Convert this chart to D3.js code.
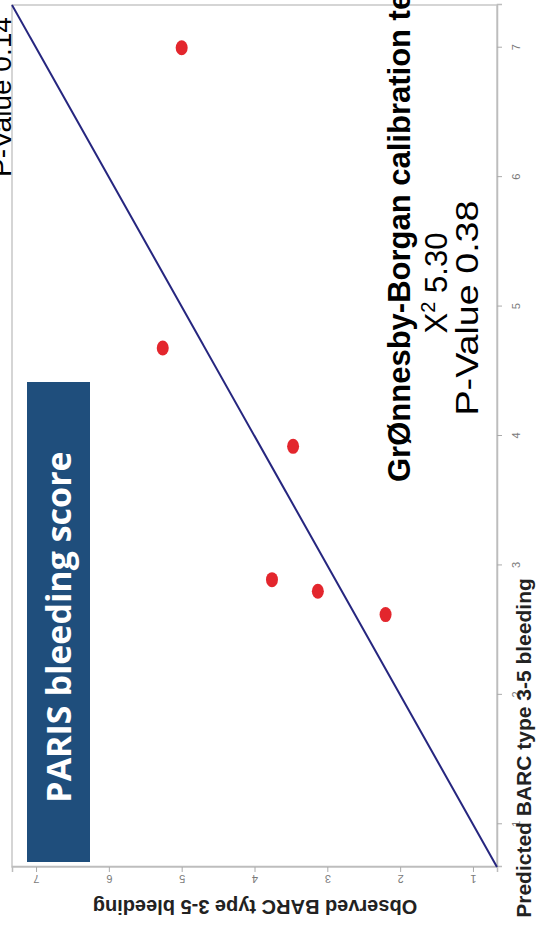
<!DOCTYPE html>
<html>
<head>
<meta charset="utf-8">
<script src="https://cdn.jsdelivr.net/npm/d3@7"></script>
<style>
  html, body { margin: 0; padding: 0; background: #fff; }
  svg { display: block; }
</style>
</head>
<body>
<svg id="chart" width="548" height="939"></svg>
<script>
// ---- data ----
const predicted = [7.00, 4.68, 3.92, 2.89, 2.80, 2.62];
const observed  = [5.00, 5.26, 3.47, 3.76, 3.13, 2.20];
const tickValues = [1, 2, 3, 4, 5, 6, 7];
const axisDomain = [0.67, 7.33];
const titleText = "PARIS bleeding score";
const testTitle = "GrØnnesby-Borgan calibration test";
const chiText = "5.30";
const pText = "P-Value 0.38";
const otherPText = "P-Value 0.14";
const xTitle = "Predicted BARC type 3-5 bleeding";
const yTitle = "Observed BARC type 3-5 bleeding";

// ---- layout (original chart orientation, then rotated -90deg) ----
const W = 862, H = 485;
const svg = d3.select("#chart");
const g = svg.append("g")
  .attr("transform", "translate(497,867) rotate(-90) translate(0,-485)");

const x = d3.scaleLinear().domain(axisDomain).range([0, W]);
const y = d3.scaleLinear().domain(axisDomain).range([H, 0]);

// frame
g.append("rect").attr("x", 0).attr("y", 0).attr("width", W).attr("height", H)
  .attr("fill", "#fff").attr("stroke", "#c8c8c8").attr("stroke-width", 1.5);

// axes
const xAxis = g.append("g").attr("transform", `translate(0,${H})`)
  .call(d3.axisBottom(x).tickValues(tickValues).tickSize(5).tickPadding(10).tickFormat(d3.format("d")));
const yAxis = g.append("g")
  .call(d3.axisLeft(y).tickValues(tickValues).tickSize(5).tickPadding(8).tickFormat(d3.format("d")));
[xAxis, yAxis].forEach(a => {
  a.select(".domain").attr("stroke", "#bdbdbd").attr("stroke-width", 1.5);
  a.selectAll(".tick line").attr("stroke", "#aaa");
  a.selectAll(".tick text").attr("fill", "#7a7a7a").attr("font-size", 11)
    .attr("font-family", "Liberation Sans, Arial, sans-serif");
});
yAxis.selectAll(".tick text")
  .attr("x", null).attr("dy", null)
  .attr("text-anchor", "middle")
  .attr("transform", "translate(-8,0) rotate(-90)");

// title box
g.append("rect").attr("x", 5).attr("y", 15).attr("width", 480).attr("height", 63)
  .attr("fill", "#1f4e7c");
g.append("text").attr("x", 240).attr("y", 59)
  .attr("text-anchor", "middle").attr("fill", "#fff")
  .attr("font-family", "Open Sans, sans-serif").attr("font-weight", "bold")
  .attr("font-size", 34).text(titleText);

// reference line y = x
g.append("line")
  .attr("x1", x(axisDomain[0])).attr("y1", y(axisDomain[0]))
  .attr("x2", x(axisDomain[1])).attr("y2", y(axisDomain[1]))
  .attr("stroke", "#26267f").attr("stroke-width", 2);

// points
const pts = predicted.map((p, i) => ({ p, o: observed[i] }));
g.selectAll("ellipse.pt").data(pts).join("ellipse").attr("class", "pt")
  .attr("cx", d => x(d.p)).attr("cy", d => y(d.o))
  .attr("rx", 7.5).attr("ry", 6).attr("fill", "#e3262d");

// axis titles
g.append("text").attr("x", 119).attr("y", 519).attr("text-anchor", "middle")
  .attr("font-family", "Liberation Sans, Arial, sans-serif").attr("font-weight", "bold")
  .attr("font-size", 21).attr("fill", "#222").text(xTitle);
g.append("text").attr("transform", "translate(-33,243) rotate(-90)")
  .attr("text-anchor", "middle")
  .attr("font-family", "Liberation Sans, Arial, sans-serif").attr("font-weight", "bold")
  .attr("font-size", 20).attr("fill", "#222").text(yTitle);

// calibration test annotation
const font = "Liberation Sans, Arial, sans-serif";
g.append("text").attr("x", 385).attr("y", 398)
  .attr("font-family", font).attr("font-weight", "bold").attr("font-size", 31)
  .attr("fill", "#000").text(testTitle);
const chi = g.append("text").attr("x", 584).attr("y", 435).attr("text-anchor", "middle")
  .attr("font-family", font).attr("font-size", 31).attr("fill", "#000");
chi.append("tspan").text("X");
chi.append("tspan").attr("font-size", 20).attr("dy", -12).text("2");
chi.append("tspan").attr("dy", 12).text(" " + chiText);
g.append("text").attr("x", 559).attr("y", 466).attr("text-anchor", "middle")
  .attr("font-family", font).attr("font-size", 31).attr("fill", "#000")
  .attr("textLength", 215).attr("lengthAdjust", "spacingAndGlyphs").text(pText);
g.append("text").attr("x", 690).attr("y", -1)
  .attr("font-family", font).attr("font-size", 28).attr("fill", "#000").text(otherPText);
</script>
</body>
</html>
